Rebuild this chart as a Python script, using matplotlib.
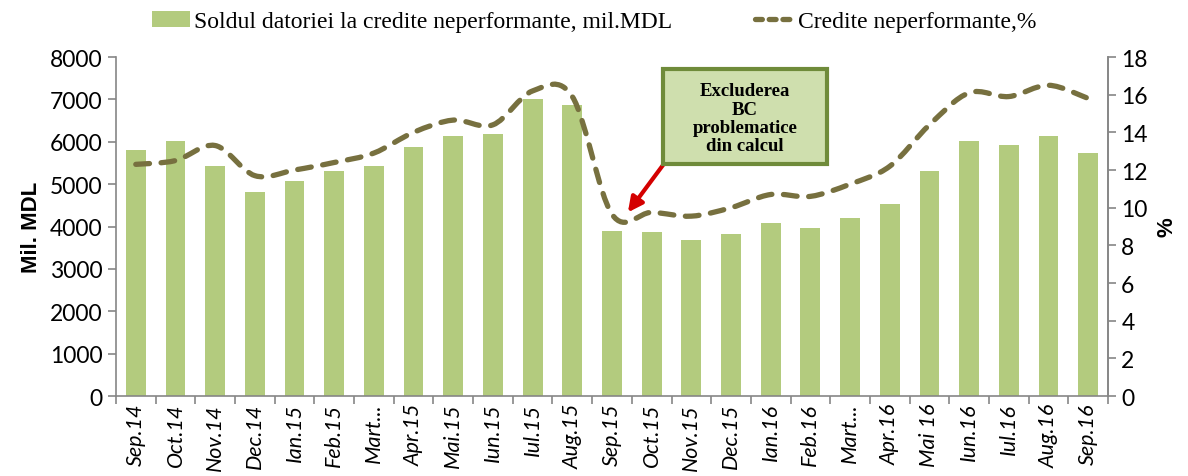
import matplotlib
matplotlib.use("Agg")
import matplotlib.pyplot as plt
import numpy as np
from matplotlib.path import Path
from matplotlib.patches import PathPatch, Rectangle, Patch
from matplotlib.lines import Line2D

months = ["Sep.14", "Oct.14", "Nov.14", "Dec.14", "Ian.15", "Feb.15", "Mart...",
          "Apr.15", "Mai.15", "Iun.15", "Iul.15", "Aug.15", "Sep.15", "Oct.15",
          "Nov.15", "Dec.15", "Ian.16", "Feb.16", "Mart...", "Apr.16", "Mai 16",
          "Iun.16", "Iul.16", "Aug.16", "Sep.16"]
sold_npl = [5800, 6010, 5420, 4810, 5070, 5300, 5420, 5870, 6130, 6180, 7000, 6860,
            3890, 3870, 3680, 3820, 4080, 3960, 4200, 4530, 5300, 6010, 5920, 6130, 5730]
npl_pct = [12.3, 12.5, 13.3, 11.7, 12.0, 12.4, 12.9, 14.0, 14.65, 14.4, 16.2, 15.9,
           9.65, 9.75, 9.55, 10.0, 10.7, 10.6, 11.25, 12.2, 14.4, 16.1, 15.9, 16.5, 15.8]

bar_color = "#b3cb7e"
line_color = "#77703f"
grey = "#868686"

fig = plt.figure(figsize=(11.88, 4.77), dpi=100)
ax = fig.add_axes([0.0976, 0.1677, 0.8351, 0.7107])
ax2 = ax.twinx()

x = np.arange(len(months))
ax.bar(x, sold_npl, width=0.5, color=bar_color, zorder=2)
ax.set_xlim(-0.5, len(months) - 0.5)
ax.set_ylim(0, 8000)
ax.set_yticks(range(0, 8001, 1000))
ax2.set_ylim(0, 18)
ax2.set_yticks(range(0, 19, 2))

# smoothed line (Excel-style bezier through the points)
pts = np.column_stack([x, npl_pct]).astype(float)
verts = [pts[0]]
codes = [Path.MOVETO]
n = len(pts)
for i in range(n - 1):
    p0 = pts[max(i - 1, 0)]
    p1 = pts[i]
    p2 = pts[i + 1]
    p3 = pts[min(i + 2, n - 1)]
    c1 = p1 + (p2 - p0) / 6.0
    c2 = p2 - (p3 - p1) / 6.0
    verts += [c1, c2, p2]
    codes += [Path.CURVE4] * 3
curve = PathPatch(Path(verts, codes), fill=False, edgecolor=line_color, lw=3.8,
                  linestyle=(0, (2.6, 2.2)), capstyle="round", zorder=3)
ax2.add_patch(curve)

for a in (ax, ax2):
    a.spines["top"].set_visible(False)
    for s in ("left", "right", "bottom"):
        a.spines[s].set_color(grey)
        a.spines[s].set_linewidth(1.2)
    a.tick_params(axis="y", colors=grey, length=6, width=1.2, labelcolor="black",
                  labelsize=16.5, direction="out")
ax2.spines["left"].set_visible(False)
ax2.spines["bottom"].set_visible(False)

ax.set_xticks(np.arange(-0.5, len(months), 1), minor=False)
ax.set_xticklabels([])
ax.set_xticks(x, minor=True)
ax.set_xticklabels(months, minor=True, rotation=90, fontstyle="italic",
                   fontsize=15.5, family="Lato")
ax.tick_params(axis="x", which="major", length=6, width=1.2, colors=grey)
ax.tick_params(axis="x", which="minor", length=0, pad=5, labelcolor="black")

for lab in ax.get_yticklabels() + ax2.get_yticklabels():
    lab.set_family("Lato")

ax.set_ylabel("Mil. MDL", fontsize=16, fontweight="bold", family="Liberation Sans",
              labelpad=6)
ax2.set_ylabel("%", fontsize=16, fontweight="bold", family="Liberation Sans",
               labelpad=6)

# annotation box
box = Rectangle((0.558, 0.654), 0.138, 0.199, transform=fig.transFigure,
                facecolor="#cfdfae", edgecolor="#6f8b3a", lw=3, zorder=5)
fig.add_artist(box)
fig.text(0.627, 0.750, "Excluderea\nBC\nproblematice\ndin calcul", ha="center",
         va="center", fontsize=13.5, fontweight="bold", family="Liberation Serif",
         linespacing=1.1, zorder=6)
ax2.annotate("", xy=(12.4, 9.75), xytext=(0.562, 0.665), textcoords="figure fraction",
             arrowprops=dict(arrowstyle="-|>", color="#d40000", lw=3,
                             mutation_scale=22, shrinkA=0, shrinkB=0), zorder=6)

handles = [Patch(facecolor=bar_color, edgecolor="none"),
           Line2D([], [], color=line_color, lw=3.8, linestyle=(0, (1.3, 1.3)),
                  dash_capstyle="round")]
fig.legend(handles, ["Soldul datoriei la credite neperformante, mil.MDL",
                     "Credite neperformante,%"],
           loc="upper center", bbox_to_anchor=(0.5, 1.02), ncol=2, frameon=False,
           prop={"family": "Liberation Serif", "size": 17}, handlelength=1.6,
           handletextpad=0.2, columnspacing=3.5)

fig.savefig("out.png", dpi=100)
